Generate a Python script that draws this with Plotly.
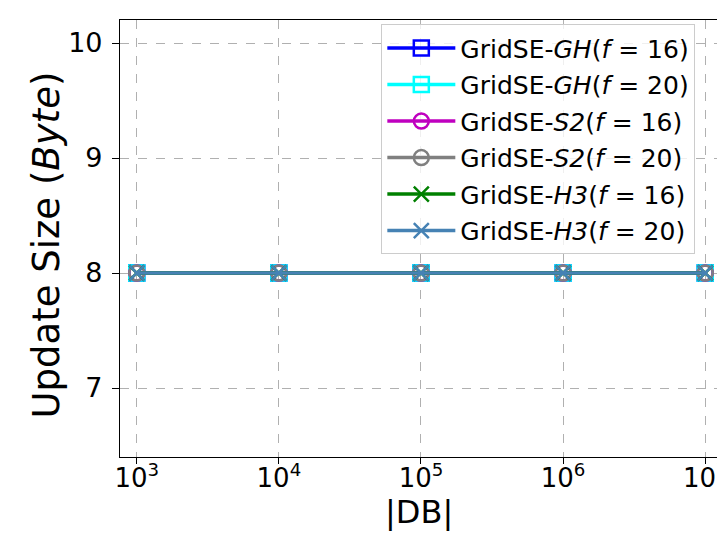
import plotly.graph_objects as go

db_sizes = [1e3, 1e4, 1e5, 1e6, 1e7]
series_names = [
    "GridSE-<i>GH</i>(<i>f</i> = 16)",
    "GridSE-<i>GH</i>(<i>f</i> = 20)",
    "GridSE-<i>S2</i>(<i>f</i> = 16)",
    "GridSE-<i>S2</i>(<i>f</i> = 20)",
    "GridSE-<i>H3</i>(<i>f</i> = 16)",
    "GridSE-<i>H3</i>(<i>f</i> = 20)",
]
gh16 = [8, 8, 8, 8, 8]
gh20 = [8, 8, 8, 8, 8]
s2_16 = [8, 8, 8, 8, 8]
s2_20 = [8, 8, 8, 8, 8]
h3_16 = [8, 8, 8, 8, 8]
h3_20 = [8, 8, 8, 8, 8]
series_values = [gh16, gh20, s2_16, s2_20, h3_16, h3_20]
colors = ["#0000ff", "#00ffff", "#bf00bf", "#808080", "#008000", "#4682b4"]
symbols = ["square-open", "square-open", "circle-open", "circle-open", "x-thin-open", "x-thin-open"]
x_tick_text = ["10<sup>3</sup>", "10<sup>4</sup>", "10<sup>5</sup>", "10<sup>6</sup>", "10<sup>7</sup>"]
x_title = "|DB|"
y_title = "Update Size (<i>Byte</i>)"

FONT = "DejaVu Sans"
fig = go.Figure()
for i, (name, vals) in enumerate(zip(series_names, series_values)):
    fig.add_trace(go.Scatter(
        x=db_sizes, y=vals, mode="lines+markers", name=name,
        legendgroup=f"g{i}",
        line=dict(color=colors[i], width=3.5),
        marker=dict(symbol=symbols[i], size=15, color=colors[i],
                    line=dict(color=colors[i], width=2.5)),
    ))

fig.update_layout(
    width=725, height=533,
    margin=dict(l=112, r=6, t=12, b=84),
    paper_bgcolor="white", plot_bgcolor="white",
    font=dict(family=FONT, color="black"),
    legend=dict(
        x=0.437, y=0.99, xanchor="left", yanchor="top",
        bgcolor="rgba(255,255,255,0.8)", bordercolor="#cccccc", borderwidth=1,
        font=dict(family=FONT, size=25, color="black"),
        tracegroupgap=1, itemwidth=68,
    ),
    showlegend=True,
    annotations=[
        dict(text=x_title, xref="paper", yref="paper", x=0.5, y=-0.126,
             xanchor="center", yanchor="middle", showarrow=False,
             font=dict(family=FONT, size=32, color="black")),
        dict(text=y_title, xref="paper", yref="paper", x=-0.1236, y=0.484,
             xanchor="center", yanchor="middle", showarrow=False, textangle=-90,
             font=dict(family=FONT, size=37, color="black")),
    ],
)
fig.update_xaxes(
    type="log", range=[2.882, 7.09],
    tickvals=db_sizes, ticktext=x_tick_text,
    tickfont=dict(family=FONT, size=26, color="black"),
    ticks="outside", ticklen=6, tickcolor="black", tickwidth=1.2,
    ticklabeloverflow="allow", ticklabelstandoff=-8,
    showline=True, linecolor="black", linewidth=1.2, mirror=True,
    showgrid=True, gridcolor="#b0b0b0", griddash="dash", gridwidth=1,
    zeroline=False,
)
fig.update_yaxes(
    range=[6.4, 10.2],
    tickvals=[7, 8, 9, 10],
    tickfont=dict(family=FONT, size=27, color="black"),
    ticks="outside", ticklen=7, tickcolor="black", tickwidth=1.2,
    ticklabelstandoff=4,
    showline=True, linecolor="black", linewidth=1.2, mirror=True,
    showgrid=True, gridcolor="#b0b0b0", griddash="dash", gridwidth=1,
    zeroline=False,
)
fig.write_html("out.html")
